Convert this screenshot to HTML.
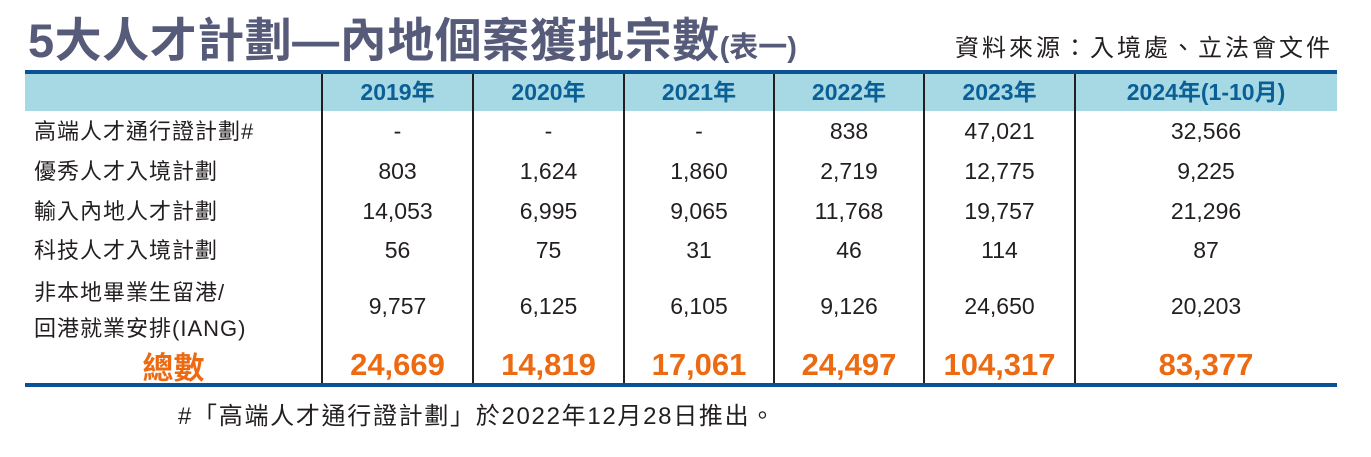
<!DOCTYPE html>
<html><head><meta charset="utf-8"><style>
body{margin:0;width:1371px;height:457px;background:#fff;position:relative;overflow:hidden;font-family:"Liberation Sans","Noto Sans CJK TC",sans-serif;color:#231f20}
.a{position:absolute;line-height:1.2}
.title{left:28px;top:13px;font-size:47px;font-weight:bold;color:#575b7a;white-space:nowrap;letter-spacing:0.5px}
.title small{font-size:29px;letter-spacing:0}
.src{left:955px;top:35px;font-size:24px;white-space:nowrap;letter-spacing:3px}
.bar{left:25px;width:1312px;background:#0a5195}
.band{left:25px;top:74px;width:1312px;height:37px;background:#a7d9e5}
.vl{width:2px;background:#231f20;top:74px;height:309px}
.c{text-align:center;white-space:nowrap;font-size:23px}
.h{font-weight:bold;color:#0b5f97;font-size:23px}
.t{font-weight:bold;color:#ec6a12;font-size:31px}
.lab{left:34px;font-size:22px;white-space:nowrap;letter-spacing:1px}
</style></head><body>
<div class="a title">5大人才計劃—內地個案獲批宗數<small>(表一)</small></div>
<div class="a src">資料來源：入境處、立法會文件</div>
<div class="a bar" style="top:70px;height:4px"></div>
<div class="a band"></div>
<div class="a bar" style="top:383px;height:4px"></div>
<div class="a vl" style="left:321px"></div>
<div class="a vl" style="left:472px"></div>
<div class="a vl" style="left:623px"></div>
<div class="a vl" style="left:773px"></div>
<div class="a vl" style="left:923px"></div>
<div class="a vl" style="left:1074px"></div>
<div id="g"></div>
<div class="a lab" style="top:119px">高端人才通行證計劃#</div>
<div class="a lab" style="top:159px">優秀人才入境計劃</div>
<div class="a lab" style="top:199px">輸入內地人才計劃</div>
<div class="a lab" style="top:238px">科技人才入境計劃</div>
<div class="a lab" style="top:275px;line-height:36px">非本地畢業生留港/<br>回港就業安排(IANG)</div>
<div class="a c t" style="left:25px;width:297px;top:350px">總數</div>
<script>
var cols=[[322,473],[473,624],[624,774],[774,924],[924,1075],[1075,1337]];
var hdr=["2019年","2020年","2021年","2022年","2023年","2024年(1-10月)"];
var rows=[["-","-","-","838","47,021","32,566"],["803","1,624","1,860","2,719","12,775","9,225"],["14,053","6,995","9,065","11,768","19,757","21,296"],["56","75","31","46","114","87"],["9,757","6,125","6,105","9,126","24,650","20,203"]];
var tops=[118,158,198,237,293];
var tot=["24,669","14,819","17,061","24,497","104,317","83,377"];
var h="";
for(var i=0;i<6;i++){var l=cols[i][0],w=cols[i][1]-cols[i][0];
h+='<div class="a c h" style="left:'+l+'px;width:'+w+'px;top:79px">'+hdr[i]+'</div>';
for(var r=0;r<5;r++)h+='<div class="a c" style="left:'+l+'px;width:'+w+'px;top:'+tops[r]+'px">'+rows[r][i]+'</div>';
h+='<div class="a c t" style="left:'+l+'px;width:'+w+'px;top:346px">'+tot[i]+'</div>';}
document.getElementById("g").innerHTML=h;
</script>
<div class="a" style="left:178px;top:403px;font-size:24px;white-space:nowrap;letter-spacing:1.7px">#「高端人才通行證計劃」於2022年12月28日推出。</div>
</body></html>
